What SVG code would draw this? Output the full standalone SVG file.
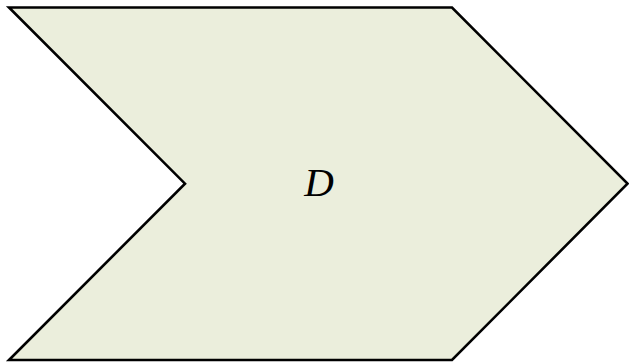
<svg xmlns="http://www.w3.org/2000/svg" width="629" height="362" viewBox="0 0 629 362">
<style>
.shape{fill:#ebeedc;stroke:#000;stroke-width:2.6;stroke-linejoin:miter}
.lbl{font-family:"Liberation Serif","DejaVu Serif",serif;font-style:italic;font-size:41px;fill:#000;text-anchor:middle}
</style>
<rect width="629" height="362" fill="#fff"/>
<g id="node-D">
<polygon class="shape" points="9,7.5 452,7.5 627.5,183.7 452,360 9,360 185,183.7"/>
<text class="lbl" x="319" y="195.5">D</text>
</g>
<g id="connectors"/>
</svg>
